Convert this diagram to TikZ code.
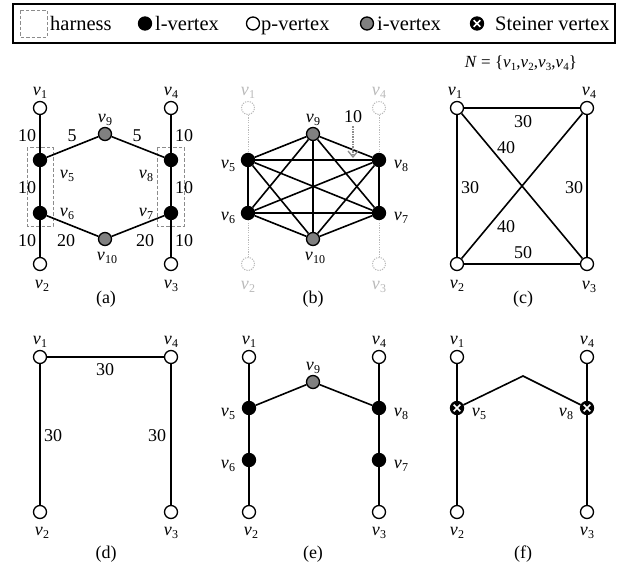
\documentclass[tikz,border=0pt]{standalone}
\usepackage{fontspec}
\setmainfont{Liberation Serif}
\usetikzlibrary{arrows.meta}
\definecolor{igray}{RGB}{128,128,128}
\definecolor{ghost}{RGB}{185,185,185}
\definecolor{harn}{RGB}{140,140,140}
\definecolor{arrg}{RGB}{140,140,140}
\newcommand\vl[1]{\textit{v}\kern0.2pt\raisebox{-3.5pt}{\fontsize{12}{12}\selectfont #1}}
\newcommand\vs[1]{\textit{v}\kern0.2pt\raisebox{-3pt}{\fontsize{11}{11}\selectfont #1}}
\tikzset{
  vtx/.style={circle, draw=black, line width=1.3pt, minimum size=13pt, inner sep=0pt},
  pv/.style={vtx, fill=white},
  lv/.style={vtx, fill=black},
  iv/.style={vtx, fill=igray},
  gv/.style={circle, draw=ghost, dash pattern=on 1.2pt off 1.2pt, line width=1pt, minimum size=13pt, inner sep=0pt, fill=white},
  sv/.style={lv, path picture={
      \draw[white, line width=1.6pt]
        ([shift={(-3.3pt,-3.3pt)}]path picture bounding box.center) -- ([shift={(3.3pt,3.3pt)}]path picture bounding box.center)
        ([shift={(-3.3pt,3.3pt)}]path picture bounding box.center) -- ([shift={(3.3pt,-3.3pt)}]path picture bounding box.center);}},
  edge/.style={line width=1.6pt},
  gedge/.style={draw=ghost, dash pattern=on 1.2pt off 1.2pt, line width=1pt},
  lbl/.style={font=\fontsize{18}{20}\selectfont, inner sep=0pt},
  glbl/.style={lbl, text=ghost},
  leg/.style={font=\fontsize{20.5}{22}\selectfont, inner sep=0pt, anchor=base west},
  harness/.style={draw=harn, dash pattern=on 3.5pt off 2pt, line width=1pt},
}
\begin{document}
\begin{tikzpicture}[x=1pt,y=-1pt]
\useasboundingbox (0,0) rectangle (627,568);

% ---------- legend ----------
\draw[line width=1.5pt] (13,4) rectangle (615,43);
\draw[harness] (20,10) rectangle (47,37);
\node[leg] (lh) at (50,30.5) {harness};
\node[lv] (ll) at (145,23.5) {};
\node[leg] (llt) at (155,30.5) {l-vertex};
\node[pv] (lp) at (253,23.5) {};
\node[leg] (lpt) at (261,30.5) {p-vertex};
\node[iv] (li) at (367,23.5) {};
\node[leg] (lit) at (377,30.5) {i-vertex};
\node[sv] (ls) at (477,23.5) {};
\node[leg] (lst) at (495,30.5) {Steiner vertex};

\node[font=\fontsize{17}{19}\selectfont, inner sep=0pt] (Nset) at (521,63) {\textit{N} = \{\vs1,\vs2,\vs3,\vs4\}};

% ---------- (a) ----------
\draw[harness] (27,147) rectangle (53,226);
\draw[harness] (157,147) rectangle (184,226);
\node[pv] (a1) at (40,108) {};
\node[lv] (a5) at (40,160) {};
\node[lv] (a6) at (40,213) {};
\node[pv] (a2) at (40,264) {};
\node[iv] (a9) at (105,134) {};
\node[iv] (a10) at (105,239) {};
\node[pv] (a4) at (171,108) {};
\node[lv] (a8) at (171,160) {};
\node[lv] (a7) at (171,213) {};
\node[pv] (a3) at (171,264) {};
\draw[edge] (a1) -- (a5) -- (a6) -- (a2);
\draw[edge] (a4) -- (a8) -- (a7) -- (a3);
\draw[edge] (a5) -- (a9) -- (a8);
\draw[edge] (a6) -- (a10) -- (a7);
\node[lbl] (la1) at (40,93) {\vl1};
\node[lbl] (la4) at (171,93) {\vl4};
\node[lbl] (la2) at (42,286) {\vl2};
\node[lbl] (la3) at (171,286) {\vl3};
\node[lbl] (la9) at (105,120) {\vl9};
\node[lbl] (la10) at (107,258) {\vl{10}};
\node[lbl] (la5) at (67,176) {\vl5};
\node[lbl] (la8) at (146,176) {\vl8};
\node[lbl] (la6) at (67,214) {\vl6};
\node[lbl] (la7) at (146,214) {\vl7};
\node[lbl] (wa1) at (27,136) {10};
\node[lbl] (wa2) at (72,136) {5};
\node[lbl] (wa3) at (137,136) {5};
\node[lbl] (wa4) at (184,136) {10};
\node[lbl] (wa5) at (27,188) {10};
\node[lbl] (wa6) at (184,188) {10};
\node[lbl] (wa7) at (27,241) {10};
\node[lbl] (wa8) at (66,241) {20};
\node[lbl] (wa9) at (145,241) {20};
\node[lbl] (wa10) at (184,241) {10};
\node[lbl] (capa) at (106,299) {(a)};

% ---------- (b) ----------
\node[gv] (b1) at (248,108) {};
\node[gv] (b2) at (248,264) {};
\node[gv] (b4) at (379,108) {};
\node[gv] (b3) at (379,264) {};
\node[lv] (b5) at (248,160) {};
\node[lv] (b6) at (248,213) {};
\node[iv] (b9) at (313,134) {};
\node[iv] (b10) at (313,239) {};
\node[lv] (b8) at (379,160) {};
\node[lv] (b7) at (379,213) {};
\draw[gedge] (b1) -- (b5) (b6) -- (b2) (b4) -- (b8) (b7) -- (b3);
\foreach \p/\q in {b5/b6,b5/b7,b5/b8,b5/b9,b5/b10,b6/b7,b6/b8,b6/b9,b6/b10,b7/b8,b7/b9,b7/b10,b8/b9,b8/b10,b9/b10}
  \draw[edge] (\p) -- (\q);
\node[glbl] (lb1) at (248,93) {\vl1};
\node[glbl] (lb4) at (379,93) {\vl4};
\node[glbl] (lb2) at (248,287) {\vl2};
\node[glbl] (lb3) at (379,287) {\vl3};
\node[lbl] (lb9) at (313,120) {\vl9};
\node[lbl] (lb10) at (315,258) {\vl{10}};
\node[lbl] (lb5) at (228,166) {\vl5};
\node[lbl] (lb6) at (228,218) {\vl6};
\node[lbl] (lb8) at (401,166) {\vl8};
\node[lbl] (lb7) at (401,218) {\vl7};
\node[lbl] (wb) at (353,117) {10};
\coordinate (wbt) at (353,157);
\draw[draw=arrg, dash pattern=on 1.3pt off 1.2pt, line width=1.3pt] (wb.south) ++(0,3) -- ([yshift=1pt]wbt);
\draw[draw=arrg, line width=1.3pt, line join=miter] ([shift={(-5pt,6pt)}]wbt) -- (wbt) -- ([shift={(5pt,6pt)}]wbt);
\node[lbl] (capb) at (313,299) {(b)};

% ---------- (c) ----------
\node[pv] (c1) at (457,108) {};
\node[pv] (c4) at (587,108) {};
\node[pv] (c2) at (457,264) {};
\node[pv] (c3) at (587,264) {};
\draw[edge] (c1) -- (c4) -- (c3) -- (c2) -- (c1);
\draw[edge] (c1) -- (c3);
\draw[edge] (c4) -- (c2);
\node[lbl] (lc1) at (455,93) {\vl1};
\node[lbl] (lc4) at (589,93) {\vl4};
\node[lbl] (lc2) at (457,286) {\vl2};
\node[lbl] (lc3) at (589,287) {\vl3};
\node[lbl] (wc1) at (523,122) {30};
\node[lbl] (wc2) at (506,148) {40};
\node[lbl] (wc3) at (470,188) {30};
\node[lbl] (wc4) at (574,188) {30};
\node[lbl] (wc5) at (506,227) {40};
\node[lbl] (wc6) at (523,253) {50};
\node[lbl] (capc) at (523,299) {(c)};

% ---------- (d) ----------
\node[pv] (d1) at (40,357) {};
\node[pv] (d4) at (171,357) {};
\node[pv] (d2) at (40,512) {};
\node[pv] (d3) at (171,512) {};
\draw[edge] (d2) -- (d1) -- (d4) -- (d3);
\node[lbl] (ld1) at (40,342) {\vl1};
\node[lbl] (ld4) at (171,342) {\vl4};
\node[lbl] (ld2) at (42,533) {\vl2};
\node[lbl] (ld3) at (171,533) {\vl3};
\node[lbl] (wd1) at (105,370) {30};
\node[lbl] (wd2) at (53,436) {30};
\node[lbl] (wd3) at (157,436) {30};
\node[lbl] (capd) at (106,554) {(d)};

% ---------- (e) ----------
\node[pv] (e1) at (249,357) {};
\node[lv] (e5) at (249,408) {};
\node[lv] (e6) at (249,460) {};
\node[pv] (e2) at (249,512) {};
\node[iv] (e9) at (313,382) {};
\node[pv] (e4) at (379,357) {};
\node[lv] (e8) at (379,408) {};
\node[lv] (e7) at (379,460) {};
\node[pv] (e3) at (379,512) {};
\draw[edge] (e1) -- (e5) -- (e6) -- (e2);
\draw[edge] (e4) -- (e8) -- (e7) -- (e3);
\draw[edge] (e5) -- (e9) -- (e8);
\node[lbl] (le1) at (249,342) {\vl1};
\node[lbl] (le4) at (379,342) {\vl4};
\node[lbl] (le2) at (251,533) {\vl2};
\node[lbl] (le3) at (379,533) {\vl3};
\node[lbl] (le9) at (313,368) {\vl9};
\node[lbl] (le5) at (228,414) {\vl5};
\node[lbl] (le6) at (228,466) {\vl6};
\node[lbl] (le8) at (401,414) {\vl8};
\node[lbl] (le7) at (401,466) {\vl7};
\node[lbl] (cape) at (313,554) {(e)};

% ---------- (f) ----------
\node[pv] (f1) at (457,357) {};
\node[sv] (f5) at (457,408) {};
\node[pv] (f2) at (457,512) {};
\node[pv] (f4) at (587,357) {};
\node[sv] (f8) at (587,408) {};
\node[pv] (f3) at (587,512) {};
\coordinate (fx) at (523,376);
\draw[edge] (f1) -- (f5) -- (f2);
\draw[edge] (f4) -- (f8) -- (f3);
\draw[edge] (f5) -- (fx) -- (f8);
\node[lbl] (lf1) at (457,342) {\vl1};
\node[lbl] (lf4) at (587,342) {\vl4};
\node[lbl] (lf2) at (457,533) {\vl2};
\node[lbl] (lf3) at (587,533) {\vl3};
\node[lbl] (lf5) at (479,414) {\vl5};
\node[lbl] (lf8) at (566,414) {\vl8};
\node[lbl] (capf) at (523,554) {(f)};
\end{tikzpicture}
\end{document}
